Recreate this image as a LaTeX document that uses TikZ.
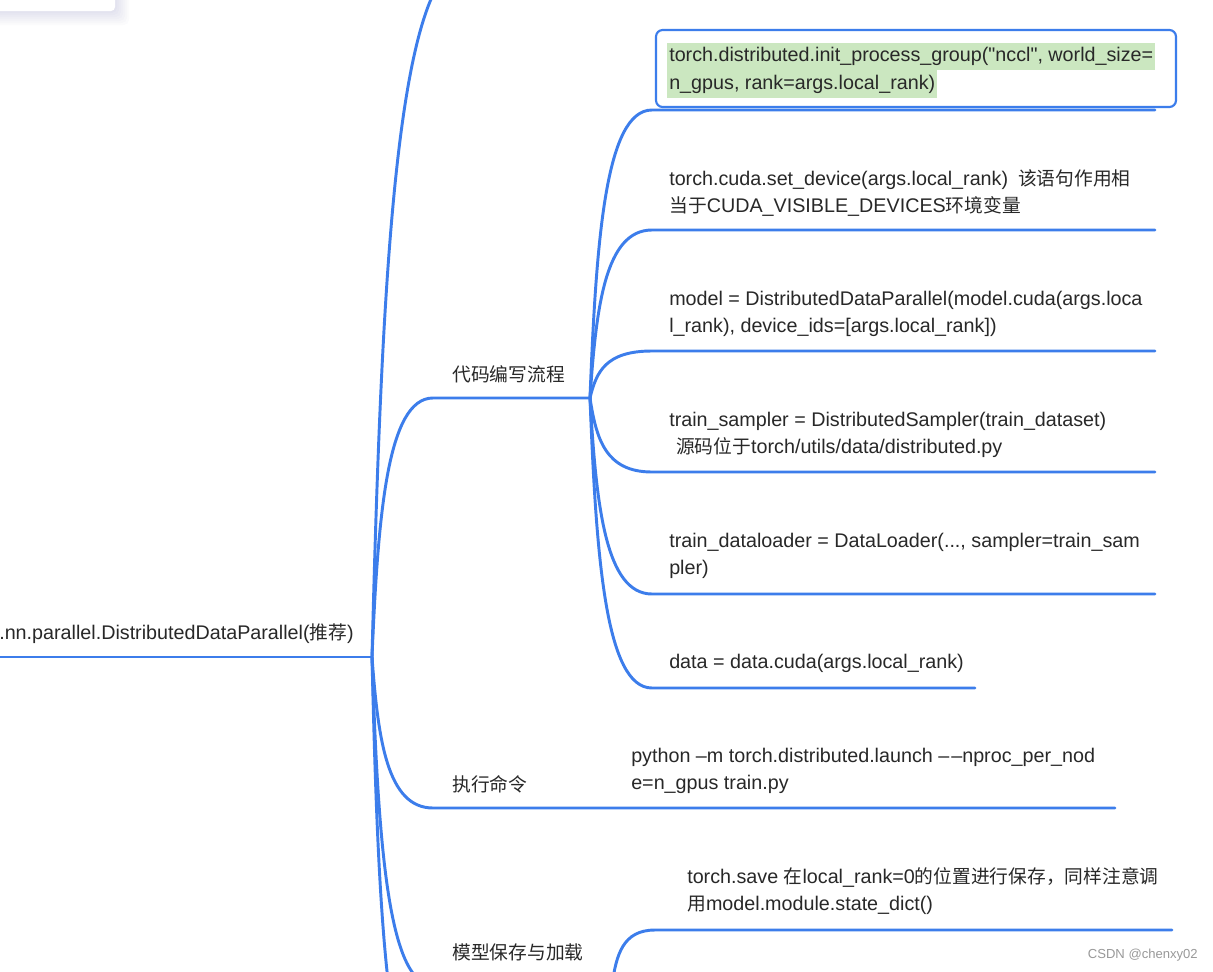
\documentclass[tikz,border=0pt]{standalone}
\usepackage{fontspec}
\setmainfont{Liberation Sans}
\newfontfamily\cjk[Scale=0.95]{Noto Sans CJK SC}
\newcommand\zh[1]{{\cjk #1}}
\usetikzlibrary{calc}

\definecolor{mapblue}{RGB}{60,125,235}
\definecolor{hlgreen}{RGB}{203,231,192}
\definecolor{textgray}{RGB}{40,40,40}

\begin{document}
\begin{tikzpicture}[
        x=0.75pt, y=-0.75pt,
        font=\fontsize{14.8}{20.25}\selectfont,
        txt/.style={anchor=west, inner sep=0pt, align=left, text=textgray},
        hl/.style={txt, fill=hlgreen, inner xsep=1.5pt, minimum height=20.4pt},
        mapline/.style={draw=mapblue, line width=2.2pt, line cap=round},
        branch/.style={mapline, to path={let \p1=(\tikztostart), \p2=(\tikztotarget) in
            .. controls ({\x1+0.1*(\x2-\x1)},{\y1+0.55*(\y2-\y1)}) and ({\x1+0.25*(\x2-\x1)},\y2) .. (\tikztotarget)}},
        initbox/.style={draw=mapblue, line width=1.6pt, fill=white, rounded corners=5pt,
            minimum width=390pt, minimum height=57.75pt}
    ]
    \useasboundingbox (0,0) rectangle (1213,971);
    \clip (0,0) rectangle (1213,971);
    \fill[white] (0,0) rectangle (1213,971);

    % Card at the top left
    \foreach \s in {2,4,...,14}
        \fill[rounded corners=4pt, blue!30!gray, opacity=0.022] (-30,-40) rectangle (115+\s,11+\s);
    \fill[white, rounded corners=3pt] (-30,-40) rectangle (115,11);

    % Junctions
    \coordinate (rootstart) at (-5,657);
    \coordinate (root) at (372,657);
    \coordinate (code) at (590,398);
    \coordinate (save) at (612,985);

    % Main branches
    \coordinate (topL) at (470,-40);
    \coordinate (codeL) at (433,398);
    \coordinate (execL) at (433,808);
    \coordinate (execR) at (1115,808);
    \coordinate (saveL) at (433,985);
    \coordinate (downL) at (430,1100);
    \draw[mapline] (rootstart) -- (root);
    \draw[branch] (root) to (topL);
    \draw[branch] (root) to (codeL) -- (code);
    \draw[branch] (root) to (execL) -- (execR);
    \draw[branch] (root) to (saveL) -- (save);
    \draw[branch] (root) to (downL);

    % Steps of the code
    \foreach \yy/\nm/\xr in {110/init/1155, 230/dev/1155, 351/ddp/1155, 472/sampler/1155, 594/loader/1155, 688/data/975} {
        \coordinate (\nm L) at (652,\yy);
        \coordinate (\nm R) at (\xr,\yy);
        \draw[branch] (code) to (\nm L) -- (\nm R);
    }

    % Saving the model
    \coordinate (saveC) at (655,930);
    \coordinate (saveR) at (1172,930);
    \draw[branch] (save) to (saveC) -- (saveR);

    % Labels
    \node[txt] (rootlabel) at (-1,634) {.nn.parallel.DistributedDataParallel(\zh{推荐})};
    \node[txt] (codelabel) at (452,374) {\zh{代码编写流程}};
    \node[txt] (execlabel) at (452,784) {\zh{执行命令}};
    \node[txt] (savelabel) at (452,952) {\zh{模型保存与加载}};

    \node[initbox] (initnode) at (916,68.5) {};
    \node[hl] (initA) at (667,56.5) {torch.distributed.init\_process\_group(\textquotedbl nccl\textquotedbl, world\_size=};
    \node[hl] (initB) at (667,84) {n\_gpus, rank=args.local\_rank)};

    \node[txt] (devtext) at (669,193) {torch.cuda.set\_device(args.local\_rank)\hspace{0.5em}\zh{该语句作用相}\\\zh{当于}CUDA\_VISIBLE\_DEVICES\zh{环境变量}};
    \node[txt] (ddptext) at (669,314) {model = DistributedDataParallel(model.cuda(args.loca\\l\_rank), device\_ids=[args.local\_rank])};
    \node[txt] (samplertext) at (669,435) {train\_sampler = DistributedSampler(train\_dataset)\\\hspace*{0.35em}\zh{源码位于}torch/utils/data/distributed.py};
    \node[txt] (loadertext) at (669,556) {train\_dataloader = DataLoader(..., sampler=train\_sam\\pler)};
    \node[txt] (datatext) at (669,663) {data = data.cuda(args.local\_rank)};
    \node[txt] (exectext) at (631,771) {python –m torch.distributed.launch –\kern1.5pt–nproc\_per\_nod\\e=n\_gpus train.py};
    \node[txt] (savetext) at (687,891) {torch.save \zh{在}local\_rank=0\zh{的位置进行保存，同样注意调}\\\zh{用}model.module.state\_dict()};

    % Watermark
    \node[anchor=east, inner sep=0pt, text=black!40, font=\fontsize{9.8}{12}\selectfont] (mark) at (1198,955) {CSDN @chenxy02};
\end{tikzpicture}
\end{document}
